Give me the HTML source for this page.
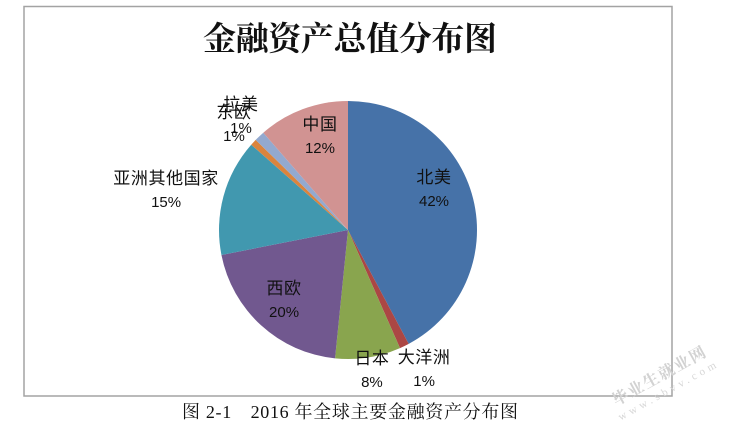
<!DOCTYPE html>
<html lang="zh">
<head>
<meta charset="utf-8">
<title>金融资产总值分布图</title>
<style>
html,body{margin:0;padding:0;background:#fff;}
body{width:730px;height:425px;overflow:hidden;position:relative;}
svg{position:absolute;left:0;top:0;display:block;}
text{font-family:"Liberation Sans","Noto Sans CJK SC",sans-serif;fill:#111;}
.serif{font-family:"Liberation Serif","Noto Serif CJK SC",serif;}
</style>
</head>
<body>
<svg id="chart" width="730" height="425" viewBox="0 0 730 425" xmlns="http://www.w3.org/2000/svg">
  <rect x="24" y="6.5" width="648" height="389.5" fill="#fff" stroke="#a3a3a3" stroke-width="1.5"/>
  <text class="serif" x="203" y="50" font-size="33" font-weight="700" textLength="294" lengthAdjust="spacing">金融资产总值分布图</text>
  <g id="slices"></g>
  <g id="labels"></g>
  <text class="serif" x="182" y="418" font-size="18" textLength="336" lengthAdjust="spacing">图 2-1　2016 年全球主要金融资产分布图</text>
  <g transform="rotate(-29 661 380)">
    <text class="serif" x="609" y="381" font-size="16" font-weight="700" textLength="104" lengthAdjust="spacing" style="fill:#d2d2d2">毕业生就业网</text>
    <text class="serif" x="606" y="396" font-size="11" textLength="110" lengthAdjust="spacing" style="fill:#d6d6d6">www.sbvv.com</text>
  </g>
</svg>
<script>
const categories = ["北美", "大洋洲", "日本", "西欧", "亚洲其他国家", "东欧", "拉美", "中国"];
const seriesValues = [42.2, 1.2, 8.2, 20.3, 14.6, 0.8, 1.3, 11.4];
const printedValues = ["42%", "1%", "8%", "20%", "15%", "1%", "1%", "12%"];
const sliceColors = ["#4672a8", "#ab4744", "#89a54e", "#71588f", "#4198af", "#db843d", "#93a9cf", "#d19392"];
const labelRadiusFactors = [0.739, 1.228, 1.101, 0.735, 1.444, 1.207, 1.212, 0.76];
const labelAngleShifts = [-11.5, -2.8, -0.7, 0.1, -2.7, 0.1, 0.2, 3.9];

const svgNS = "http://www.w3.org/2000/svg";
const cx = 348, cy = 230, radius = 129;
const total = seriesValues.reduce(function (a, b) { return a + b; }, 0);

function angleOf(v) { return v / total * Math.PI * 2; }
function px(a, r) { return cx + Math.sin(a) * r; }
function py(a, r) { return cy - Math.cos(a) * r; }

const slicesG = document.getElementById("slices");
const labelsG = document.getElementById("labels");
let cumulative = 0;
seriesValues.forEach(function (v, i) {
  const a0 = angleOf(cumulative);
  const a1 = angleOf(cumulative + v);
  cumulative += v;
  const large = a1 - a0 > Math.PI ? 1 : 0;
  const p = document.createElementNS(svgNS, "path");
  p.setAttribute("d", "M" + cx + " " + cy + "L" + px(a0, radius) + " " + py(a0, radius) +
    "A" + radius + " " + radius + " 0 " + large + " 1 " + px(a1, radius) + " " + py(a1, radius) + "Z");
  p.setAttribute("fill", sliceColors[i]);
  
  
  slicesG.appendChild(p);

  const mid = (a0 + a1) / 2 + labelAngleShifts[i] * Math.PI / 180;
  const lx = px(mid, radius * labelRadiusFactors[i]);
  const ly = py(mid, radius * labelRadiusFactors[i]);
  const t1 = document.createElementNS(svgNS, "text");
  t1.setAttribute("x", lx);
  t1.setAttribute("y", ly - 6);
  t1.setAttribute("font-size", "17");
  t1.setAttribute("letter-spacing", "0.6");
  t1.setAttribute("text-anchor", "middle");
  t1.textContent = categories[i];
  
  
  labelsG.appendChild(t1);
  const t2 = document.createElementNS(svgNS, "text");
  t2.setAttribute("x", lx);
  t2.setAttribute("y", ly + 17);
  t2.setAttribute("font-size", "15");
  t2.setAttribute("text-anchor", "middle");
  t2.textContent = printedValues[i];
  
  
  labelsG.appendChild(t2);
});
</script>
</body>
</html>
